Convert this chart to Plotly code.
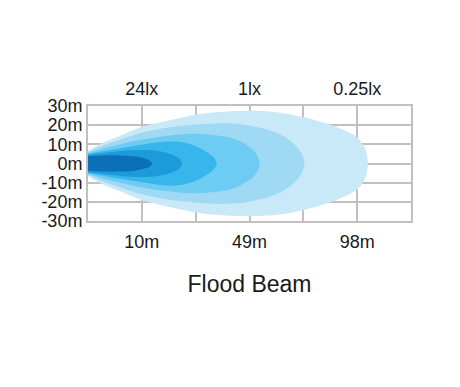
import plotly.graph_objects as go

# ---- axis data ----
x_ticks = [0, 1, 2, 3, 4, 5, 6]
bottom_labels = ["", "10m", "", "49m", "", "98m", ""]
top_labels = ["", "24lx", "", "1lx", "", "0.25lx", ""]
y_ticks = [30, 20, 10, 0, -10, -20, -30]
y_labels = ["30m", "20m", "10m", "0m", "-10m", "-20m", "-30m"]
title_text = "Flood Beam"

# ---- beam contours: stations along beam (grid columns) and half-width (m) ----
beam1_x = [0, 0.25, 0.6, 1.0, 1.5, 2.0, 2.5, 3.0, 3.5, 4.0, 4.5, 4.8, 5.0, 5.1, 5.16, 5.2]
beam1_w = [6.5, 10.5, 14.5, 19.0, 22.5, 25.5, 27.0, 27.5, 26.8, 24.2, 20.2, 16.8, 13.5, 10.2, 6.8, 0]
beam2_x = [0, 0.25, 0.6, 1.0, 1.5, 2.0, 2.6, 3.0, 3.5, 3.75, 3.9, 3.98, 4.02]
beam2_w = [6.0, 9.0, 12.5, 16.0, 18.8, 20.3, 21.0, 19.8, 16.0, 12.0, 8.0, 4.5, 0]
beam3_x = [0, 0.25, 0.6, 1.0, 1.5, 1.9, 2.3, 2.7, 2.95, 3.1, 3.19]
beam3_w = [5.5, 7.5, 10.0, 12.5, 14.5, 15.5, 15.0, 13.0, 9.5, 6.0, 0]
beam4_x = [0, 0.3, 0.6, 1.0, 1.4, 1.7, 2.0, 2.2, 2.33, 2.39]
beam4_w = [5.0, 6.5, 8.0, 9.8, 11.3, 11.3, 9.0, 6.0, 3.3, 0]
beam5_x = [0, 0.3, 0.7, 1.1, 1.4, 1.6, 1.7, 1.75]
beam5_w = [4.5, 5.5, 6.8, 7.0, 6.0, 4.2, 2.5, 0]
beam6_x = [0, 0.3, 0.6, 0.9, 1.05, 1.15, 1.19]
beam6_w = [3.8, 4.2, 4.2, 3.6, 2.6, 1.5, 0]

beams = [
    (beam1_x, beam1_w, "#c9e8f8"),
    (beam2_x, beam2_w, "#a0d9f4"),
    (beam3_x, beam3_w, "#6ecbf1"),
    (beam4_x, beam4_w, "#36b6eb"),
    (beam5_x, beam5_w, "#1c9bda"),
    (beam6_x, beam6_w, "#0b70b8"),
]

fig = go.Figure()
for bx, bw, col in beams:
    xs = list(bx) + list(reversed(bx[:-1]))
    ys = list(bw) + [-v for v in reversed(bw[:-1])]
    fig.add_trace(go.Scatter(
        x=xs, y=ys, mode="lines", fill="toself", fillcolor=col,
        line=dict(width=0, shape="spline", smoothing=1.0, color=col),
        hoverinfo="skip", showlegend=False,
    ))

# invisible trace to carry the top axis
fig.add_trace(go.Scatter(x=x_ticks, y=[0] * len(x_ticks), xaxis="x2", mode="markers",
                         marker=dict(opacity=0), hoverinfo="skip", showlegend=False))

grid_col = "#c0c0c0"
font_main = dict(family="Liberation Sans, Arial, sans-serif", size=18, color="#1a1a1a")

fig.update_layout(
    width=460, height=387,
    margin=dict(l=88, r=49, t=106, b=166),
    paper_bgcolor="white", plot_bgcolor="white",
    font=font_main,
    title=dict(text=title_text, x=0.5, xref="paper", xanchor="center",
               y=1 - 283.5 / 387, yref="container", yanchor="middle",
               font=dict(family="Liberation Sans, Arial, sans-serif", size=23, color="#1a1a1a")),
    xaxis=dict(range=[0, 6], tickvals=x_ticks, ticktext=bottom_labels,
               showgrid=True, gridcolor=grid_col, gridwidth=2,
               showline=True, linecolor=grid_col, linewidth=2, mirror=True,
               ticks="outside", ticklen=3, tickcolor="rgba(0,0,0,0)",
               zeroline=False, layer="below traces", fixedrange=True),
    xaxis2=dict(range=[0, 6], overlaying="x", side="top", tickvals=x_ticks,
                ticktext=top_labels, showgrid=False, showline=False,
                ticks="outside", ticklen=3, tickcolor="rgba(0,0,0,0)",
                zeroline=False, layer="below traces", fixedrange=True),
    yaxis=dict(range=[-30, 30], tickvals=y_ticks, ticktext=y_labels,
               showgrid=True, gridcolor=grid_col, gridwidth=2,
               showline=True, linecolor=grid_col, linewidth=2, mirror=True,
               ticks="",
               zeroline=True, zerolinecolor=grid_col, zerolinewidth=2,
               layer="below traces", fixedrange=True),
)

fig.write_html("out.html")
